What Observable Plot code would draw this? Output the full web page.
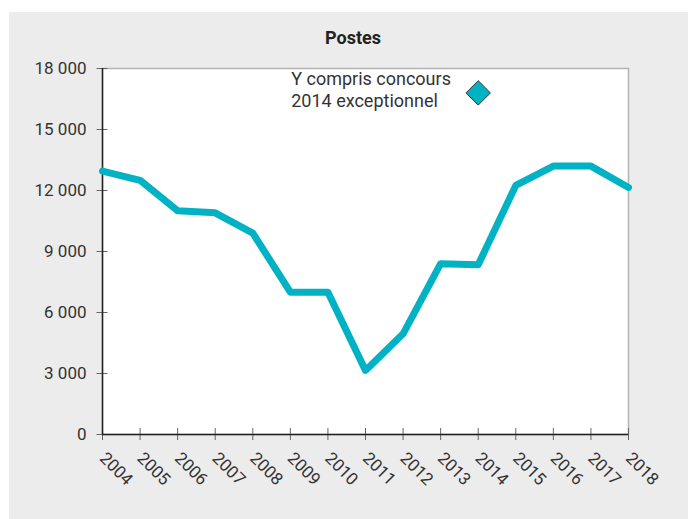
<!DOCTYPE html>
<html>
<head>
<meta charset="utf-8">
<script src="https://cdn.jsdelivr.net/npm/d3@7"></script>
<script src="https://cdn.jsdelivr.net/npm/@observablehq/plot@0.6"></script>
<style>
  html, body { margin: 0; padding: 0; background: #ffffff; }
  #panel { position: absolute; left: 9px; top: 12px; width: 679px; height: 507px; background: #ececec; overflow: hidden; }
  #title { position: absolute; left: 0; top: 15px; width: 688px; text-align: center;
           font-family: Roboto, sans-serif; font-weight: bold; font-size: 18px; color: #222; }
  #chart { position: absolute; left: 0; top: 38px; }
</style>
</head>
<body>
<div id="panel">
  <div id="title">Postes</div>
  <div id="chart"></div>
</div>
<script>
const years = [2004, 2005, 2006, 2007, 2008, 2009, 2010, 2011, 2012, 2013, 2014, 2015, 2016, 2017, 2018];
const postes = [12950, 12500, 11000, 10900, 9900, 7000, 7000, 3150, 4950, 8400, 8350, 12250, 13200, 13200, 12150];
const specialYear = [2014];
const specialValue = [16800];
const specialLabel = ["Y compris concours\n2014 exceptionnel"];
const yTicks = [0, 3000, 6000, 9000, 12000, 15000, 18000];

const data = years.map((year, i) => ({year, value: postes[i]}));
const special = specialYear.map((year, i) => ({year, value: specialValue[i], label: specialLabel[i]}));
const fmt = d => d3.format(",")(d).replace(/,/g, "\u00a0");
const teal = "#00b2c3";

const chart = Plot.plot({
  width: 679,
  height: 469,
  marginLeft: 93,
  marginRight: 60,
  marginTop: 18,
  marginBottom: 85,
  style: {background: "transparent", fontFamily: "Roboto, sans-serif", fontSize: "17px", color: "#333"},
  x: {type: "linear", domain: [2004, 2018]},
  y: {domain: [0, 18000]},
  marks: [
    Plot.frame({fill: "white", stroke: "#b3b3b3", strokeWidth: 1.5}),
    Plot.axisY(yTicks, {tickSize: 11, dx: 5.5, tickFormat: () => "", label: null, stroke: "#666"}),
    Plot.axisY(yTicks, {tickSize: 0, tickPadding: 16, tickFormat: fmt, label: null, fill: "#333", fontSize: 17}),
    Plot.axisX(years, {tickSize: 12, dy: -6, tickFormat: () => "", label: null, stroke: "#666"}),
    Plot.axisX(years, {tickSize: 0, tickPadding: 17, dy: 4, tickRotate: 45, tickFormat: d => String(d), label: null, fill: "#333", fontSize: 17}),
    Plot.ruleY([0], {stroke: "#222", strokeWidth: 1.5}),
    Plot.ruleX([2004], {stroke: "#222", strokeWidth: 1.5}),
    Plot.line(data, {x: "year", y: "value", stroke: teal, strokeWidth: 7, strokeLinecap: "round", strokeLinejoin: "round"}),
    Plot.dot(special, {x: "year", y: "value", symbol: "diamond2", r: 11, fill: teal, stroke: "#333", strokeWidth: 1}),
    Plot.text(special, {x: "year", y: "value", text: "label", textAnchor: "start", dx: -187, dy: -4, lineAnchor: "middle", lineHeight: 1.22, fontSize: 18, fill: "#333"})
  ]
});
document.getElementById("chart").appendChild(chart);
</script>
</body>
</html>
